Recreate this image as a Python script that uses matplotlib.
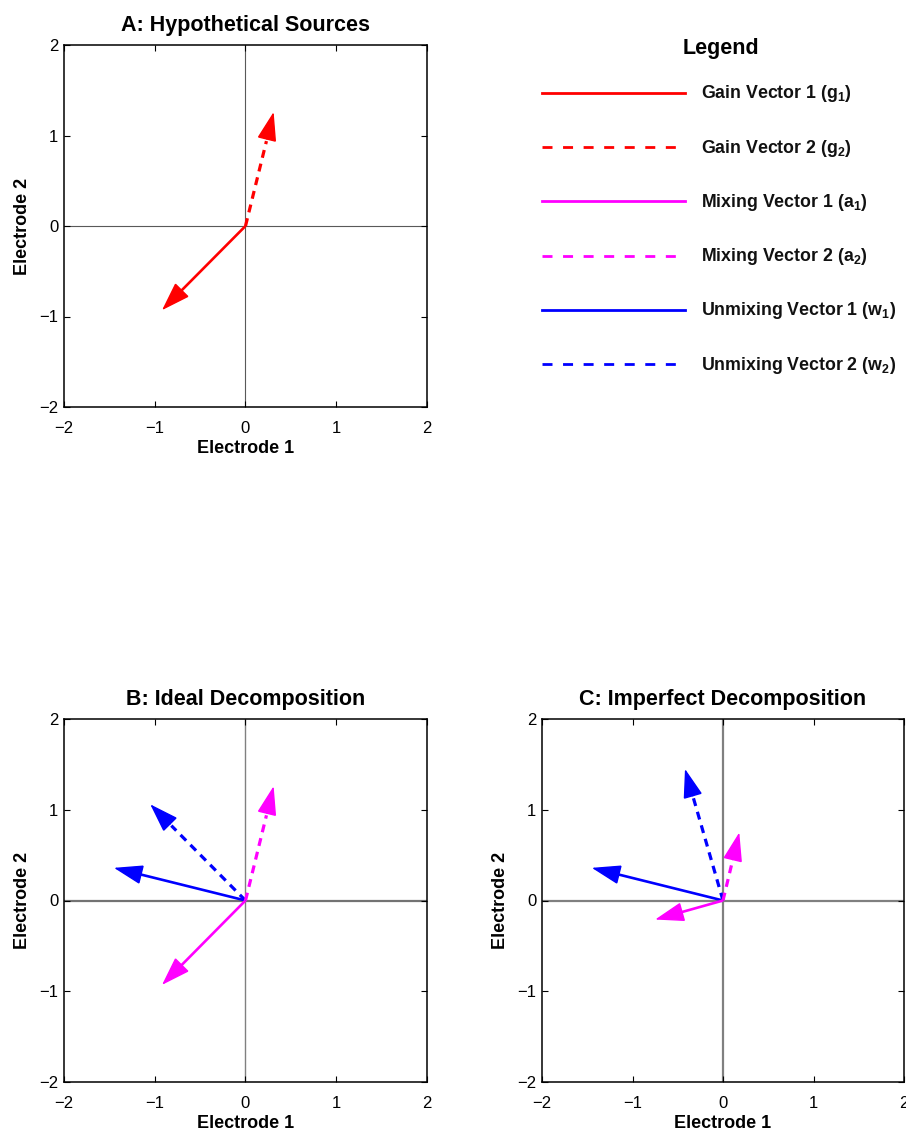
import matplotlib
matplotlib.use("Agg")
import numpy as np
import matplotlib.pyplot as plt

plt.rcParams['font.family'] = ['Liberation Sans', 'DejaVu Sans']
plt.rcParams['mathtext.fontset'] = 'custom'
plt.rcParams['mathtext.rm'] = 'Liberation Sans:bold'
plt.rcParams['mathtext.it'] = 'Liberation Sans:bold'
plt.rcParams['mathtext.bf'] = 'Liberation Sans:bold'

# ---------------- data ----------------
titles = ['A: Hypothetical Sources', 'B: Ideal Decomposition', 'C: Imperfect Decomposition']
x_label = 'Electrode 1'
y_label = 'Electrode 2'
ticks = [-2, -1, 0, 1, 2]

# Panel A: gain vectors
gain_1 = [-0.92, -0.93]
gain_2 = [0.31, 1.26]
# Panel B: ideal decomposition
ideal_mix_1 = [-0.92, -0.93]
ideal_mix_2 = [0.31, 1.26]
ideal_unmix_1 = [-1.45, 0.36]
ideal_unmix_2 = [-1.05, 1.06]
# Panel C: imperfect decomposition
imp_mix_1 = [-0.75, -0.21]
imp_mix_2 = [0.18, 0.75]
imp_unmix_1 = [-1.45, 0.36]
imp_unmix_2 = [-0.42, 1.45]

legend_labels = [r'Gain Vector 1 ($\mathrm{g}_1$)', r'Gain Vector 2 ($\mathrm{g}_2$)',
                 r'Mixing Vector 1 ($\mathrm{a}_1$)', r'Mixing Vector 2 ($\mathrm{a}_2$)',
                 r'Unmixing Vector 1 ($\mathrm{w}_1$)', r'Unmixing Vector 2 ($\mathrm{w}_2$)']
legend_colors = ['#ff0000', '#ff0000', '#ff00ff', '#ff00ff', '#0000ff', '#0000ff']
legend_styles = ['-', '--', '-', '--', '-', '--']

RED, MAG, BLUE = '#ff0000', '#ff00ff', '#0000ff'

W, H = 906, 1130
fig = plt.figure(figsize=(W / 100, H / 100), dpi=100)


def px_axes(left, top, right, bottom):
    return fig.add_axes([left / W, 1 - bottom / H, (right - left) / W, (bottom - top) / H])


def setup(ax, title, zl_h, zl_v):
    ax.set_xlim(-2, 2)
    ax.set_ylim(-2, 2)
    ax.set_xticks(ticks)
    ax.set_yticks(ticks)
    ax.tick_params(direction='in', length=4, width=0.8, top=True, right=True,
                   labelsize=12, colors='black')
    ax.tick_params(axis='x', pad=10)
    ax.tick_params(axis='y', pad=4)
    for s in ax.spines.values():
        s.set_linewidth(1.1)
    ax.axhline(0, color=zl_h[0], lw=zl_h[1], zorder=1)
    ax.axvline(0, color=zl_v[0], lw=zl_v[1], zorder=1)
    ax.set_title(title, fontsize=15.5, fontweight='bold', pad=10)
    ax.set_xlabel(x_label, fontsize=13, fontweight='bold', labelpad=3)
    ax.set_ylabel(y_label, fontsize=13, fontweight='bold', labelpad=6)


HEAD_PX = 27.0


def arrow(ax, vec, color, ls):
    tip = np.asarray(vec, dtype=float)
    org_d = ax.transData.transform((0.0, 0.0))
    tip_d = ax.transData.transform(tip)
    u = (tip_d - org_d) / np.hypot(*(tip_d - org_d))
    inv = ax.transData.inverted()
    if ls == '--':
        base = inv.transform(tip_d - u * (HEAD_PX + 3))
        ax.plot([0, base[0]], [0, base[1]], color=color, lw=2.3,
                dashes=(2.5, 1.9), solid_capstyle='butt', dash_capstyle='butt', zorder=3)
    else:
        base = inv.transform(tip_d - u * (HEAD_PX - 4))
        ax.plot([0, base[0]], [0, base[1]], color=color, lw=1.9,
                solid_capstyle='butt', zorder=3)
    start = inv.transform(tip_d - u * (HEAD_PX + 1))
    ax.annotate('', xy=(tip[0], tip[1]), xytext=(start[0], start[1]),
                arrowprops=dict(arrowstyle='-|>,head_length=1.85,head_width=0.62',
                                color=color, lw=1.0, shrinkA=0, shrinkB=0,
                                joinstyle='miter'),
                zorder=4)


axA = px_axes(64, 45, 427, 407)
setup(axA, titles[0], ('0.35', 0.8), ('0.35', 0.8))
arrow(axA, gain_1, RED, '-')
arrow(axA, gain_2, RED, '--')

axB = px_axes(64, 719, 427, 1082)
setup(axB, titles[1], ('0.45', 1.6), ('0.5', 1.0))
arrow(axB, ideal_unmix_1, BLUE, '-')
arrow(axB, ideal_unmix_2, BLUE, '--')
arrow(axB, ideal_mix_1, MAG, '-')
arrow(axB, ideal_mix_2, MAG, '--')

axC = px_axes(542, 719, 904, 1082)
setup(axC, titles[2], ('0.5', 1.6), ('0.5', 1.6))
arrow(axC, imp_unmix_1, BLUE, '-')
arrow(axC, imp_unmix_2, BLUE, '--')
arrow(axC, imp_mix_1, MAG, '-')
arrow(axC, imp_mix_2, MAG, '--')

# ---------------- legend panel ----------------
axL = px_axes(520, 30, 906, 390)
axL.set_xlim(520, 906)
axL.set_ylim(390, 30)
axL.axis('off')
axL.text(721, 54, 'Legend', fontsize=15.5, fontweight='bold', ha='center', va='baseline')
row0, row_step = 93, 54.2
for i, (lab, c, ls) in enumerate(zip(legend_labels, legend_colors, legend_styles)):
    y = row0 + i * row_step
    axL.plot([542, 685], [y, y], color=c, lw=2.0, linestyle=ls,
             dashes=(3.6, 3.8) if ls == '--' else (None, None))
    axL.text(701, y + 5.5, lab, fontsize=12.8, fontweight='bold', ha='left', va='baseline',
             color='#111111')

fig.savefig('out.png', dpi=100)
